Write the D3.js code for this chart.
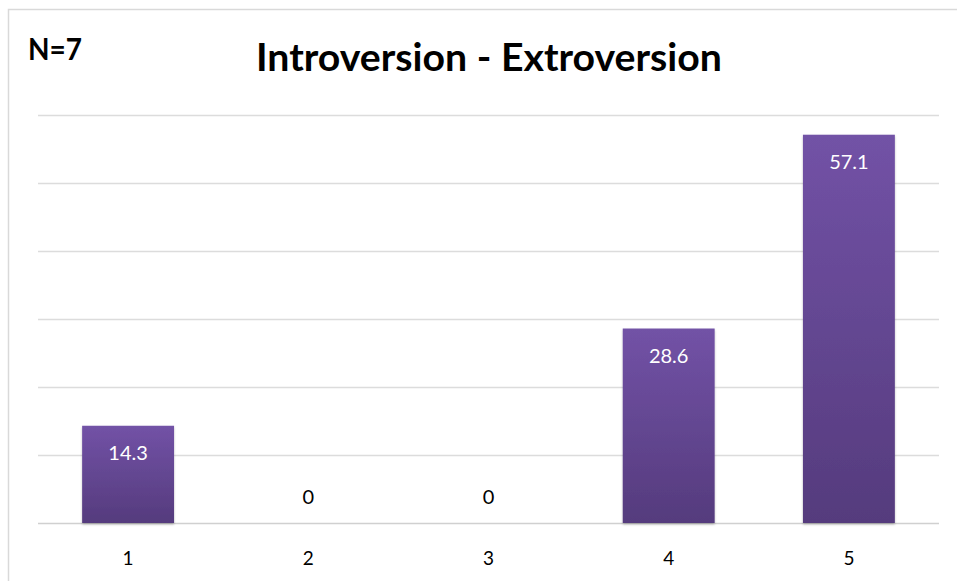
<!DOCTYPE html>
<html>
<head>
<meta charset="utf-8">
<script src="https://cdn.jsdelivr.net/npm/d3@7"></script>
<style>
  body { margin: 0; background: #fff; }
  text { font-family: Lato, "Open Sans", sans-serif; }
</style>
</head>
<body>
<script>
var width = 957,
    height = 581;

var categories = ["1", "2", "3", "4", "5"];
var values = [14.3, 0, 0, 28.6, 57.1];
var yTicks = [0, 10, 20, 30, 40, 50, 60];
var title = "Introversion - Extroversion";
var note = "N=7";

var margin = { left: 38, right: 18, top: 115, bottom: 58 };

var svg = d3.select("body").append("svg")
    .attr("width", width)
    .attr("height", height);

// gradient for bars
var grad = svg.append("defs").append("linearGradient")
    .attr("id", "barGrad")
    .attr("x1", 0).attr("y1", 0).attr("x2", 0).attr("y2", 1);
grad.append("stop").attr("offset", "0%").attr("stop-color", "#7252a6");
grad.append("stop").attr("offset", "100%").attr("stop-color", "#553b7d");

var shadow = svg.select("defs").append("filter")
    .attr("id", "shadow").attr("x", "-10%").attr("y", "-10%").attr("width", "120%").attr("height", "120%");
shadow.append("feDropShadow")
    .attr("dx", 0).attr("dy", 1.5).attr("stdDeviation", 1.2)
    .attr("flood-color", "#000").attr("flood-opacity", 0.25);

// chart frame (left and top edges visible)
svg.append("path")
    .attr("d", "M8.5," + height + "V9.5H" + width)
    .attr("fill", "none")
    .attr("stroke", "#d9d9d9")
    .attr("stroke-width", 1.5);

var x = d3.scaleBand()
    .domain(categories)
    .range([margin.left, width - margin.right])
    .paddingInner(0.49)
    .paddingOuter(0.245);

var y = d3.scaleLinear()
    .domain([0, 60])
    .range([height - margin.bottom, margin.top]);

// gridlines
svg.append("g")
    .selectAll("line")
    .data(yTicks)
    .enter().append("line")
    .attr("x1", margin.left)
    .attr("x2", width - margin.right)
    .attr("y1", function (d) { return Math.round(y(d)) + 0.5; })
    .attr("y2", function (d) { return Math.round(y(d)) + 0.5; })
    .attr("stroke", function (d) { return d === 0 ? "#d0d0d0" : "#dcdcdc"; })
    .attr("stroke-width", 1.5);

// bars
svg.append("g")
    .selectAll("rect")
    .data(values)
    .enter().append("rect")
    .attr("x", function (d, i) { return x(categories[i]); })
    .attr("width", x.bandwidth())
    .attr("y", function (d) { return y(d); })
    .attr("height", function (d) { return y(0) - y(d); })
    .attr("fill", "url(#barGrad)")
    .attr("filter", "url(#shadow)");

// value labels
svg.append("g")
    .selectAll("text")
    .data(values)
    .enter().append("text")
    .attr("x", function (d, i) { return x(categories[i]) + x.bandwidth() / 2; })
    .attr("y", function (d) { return d > 0 ? y(d) + 34 : y(0) - 19; })
    .attr("text-anchor", "middle")
    .attr("font-size", 20)
    .attr("fill", function (d) { return d > 0 ? "#fff" : "#000"; })
    .text(function (d) { return d; });

// x axis labels
svg.append("g")
    .selectAll("text")
    .data(categories)
    .enter().append("text")
    .attr("x", function (d) { return x(d) + x.bandwidth() / 2; })
    .attr("y", y(0) + 42)
    .attr("text-anchor", "middle")
    .attr("font-size", 19)
    .attr("fill", "#000")
    .text(function (d) { return d; });

// title
svg.append("text")
    .attr("x", 489)
    .attr("y", 71)
    .attr("text-anchor", "middle")
    .attr("font-size", 39)
    .attr("font-weight", 700)
    .attr("textLength", 466)
    .attr("lengthAdjust", "spacingAndGlyphs")
    .attr("fill", "#000")
    .text(title);

svg.append("text")
    .attr("x", 28)
    .attr("y", 60)
    .attr("font-size", 30)
    .attr("font-weight", 700)
    .attr("textLength", 54)
    .attr("lengthAdjust", "spacingAndGlyphs")
    .attr("fill", "#000")
    .text(note);
</script>
</body>
</html>
